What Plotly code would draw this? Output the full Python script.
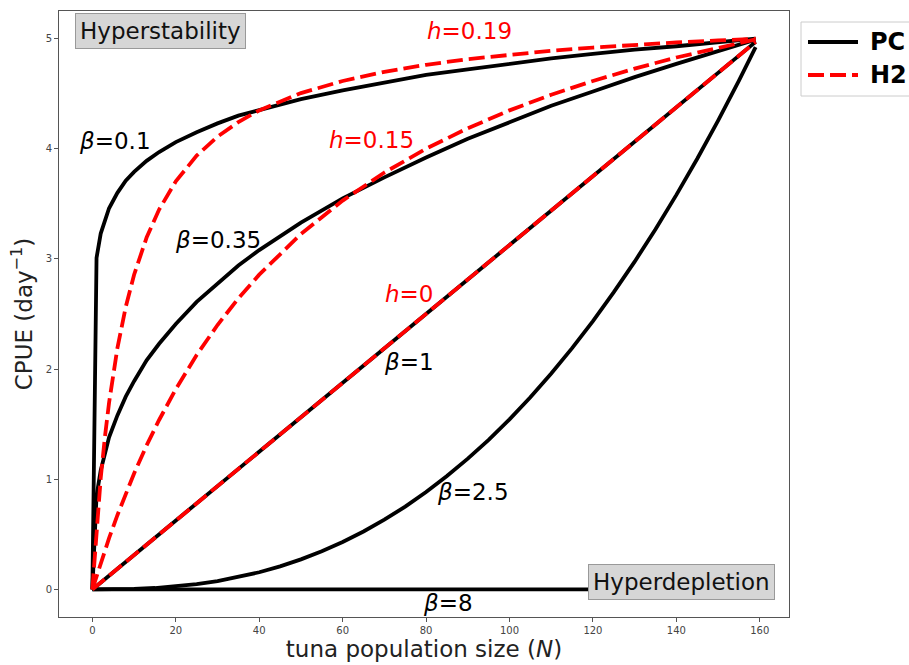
import plotly.graph_objects as go

# ---- data ----
N_grid = [0, 1, 2, 3, 4, 6, 8, 10, 13, 16, 20, 25, 30, 35, 40, 50, 60, 70,
          80, 90, 100, 110, 120, 130, 140, 150, 159]

pc_beta_01 = [0, 3.01, 3.23, 3.36, 3.46, 3.60, 3.71, 3.79, 3.89, 3.97, 4.06, 4.15,
              4.23, 4.30, 4.35, 4.45, 4.53, 4.60, 4.67, 4.72, 4.77, 4.82, 4.86,
              4.90, 4.93, 4.97, 5.00]
pc_beta_035 = [0, 0.85, 1.08, 1.24, 1.38, 1.58, 1.75, 1.89, 2.08, 2.23, 2.41, 2.61,
               2.78, 2.94, 3.08, 3.33, 3.55, 3.74, 3.92, 4.09, 4.24, 4.39, 4.52,
               4.65, 4.77, 4.89, 4.99]
N_lin = [0, 159]
pc_beta_1 = [0, 4.97]
N_25 = [0, 5, 10, 15, 20, 25, 30, 35, 40, 45, 50, 55, 60, 65, 70, 75, 80, 85, 90,
        95, 100, 105, 110, 115, 120, 125, 130, 135, 140, 145, 150, 155, 159]
pc_beta_25 = [0, 0.001, 0.005, 0.013, 0.028, 0.048, 0.076, 0.112, 0.156, 0.210,
              0.273, 0.346, 0.431, 0.526, 0.633, 0.752, 0.884, 1.029, 1.187, 1.358,
              1.544, 1.744, 1.960, 2.190, 2.436, 2.698, 2.975, 3.270, 3.581, 3.909,
              4.255, 4.619, 4.922]
N_8 = [0, 125]
pc_beta_8 = [0, 0]

h2_h019 = [0, 0.559, 1.010, 1.382, 1.695, 2.190, 2.564, 2.857, 3.194, 3.448, 3.704,
           3.937, 4.110, 4.242, 4.348, 4.505, 4.615, 4.698, 4.762, 4.813, 4.854,
           4.889, 4.918, 4.943, 4.965, 4.983, 4.998]
h2_h015 = [0, 0.123, 0.241, 0.355, 0.465, 0.674, 0.870, 1.053, 1.307, 1.538, 1.818,
           2.128, 2.400, 2.642, 2.857, 3.226, 3.529, 3.784, 4.000, 4.186, 4.348,
           4.490, 4.615, 4.727, 4.828, 4.918, 4.992]
h2_h0 = [0, 4.97]

x_ticks = [0, 20, 40, 60, 80, 100, 120, 140, 160]
y_ticks = [0, 1, 2, 3, 4, 5]
legend_names = ["PC", "H2"]

FONT = "DejaVu Sans"
LW = 3.8
DASH = "16px,6px"

fig = go.Figure()

pc_series = [(N_grid, pc_beta_01), (N_grid, pc_beta_035), (N_lin, pc_beta_1),
             (N_25, pc_beta_25), (N_8, pc_beta_8)]
for xs, ys in pc_series:
    fig.add_trace(go.Scatter(x=xs, y=ys, mode="lines",
                             line=dict(color="black", width=LW),
                             name="PC", showlegend=False))

h2_series = [(N_grid, h2_h019), (N_grid, h2_h015), (N_lin, h2_h0)]
for xs, ys in h2_series:
    fig.add_trace(go.Scatter(x=xs, y=ys, mode="lines",
                             line=dict(color="red", width=LW, dash=DASH),
                             name="H2", showlegend=False))

labels = [
    ("<i>β</i>=0.1", 5.4, 4.07, "black"),
    ("<i>β</i>=0.35", 30.0, 3.17, "black"),
    ("<i>β</i>=1", 76.0, 2.06, "black"),
    ("<i>β</i>=2.5", 91.3, 0.88, "black"),
    ("<i>β</i>=8", 85.3, -0.12, "black"),
    ("<i>h</i>=0.19", 90.3, 5.07, "red"),
    ("<i>h</i>=0.15", 66.9, 4.08, "red"),
    ("<i>h</i>=0", 76.0, 2.68, "red"),
]
for txt, x, y, c in labels:
    fig.add_annotation(x=x, y=y, text=txt, showarrow=False,
                       font=dict(family=FONT, size=23, color=c))

for txt, x, y in [("Hyperstability", 16.4, 5.07), ("Hyperdepletion", 141.3, 0.07)]:
    fig.add_annotation(x=x, y=y, text=txt, showarrow=False,
                       font=dict(family=FONT, size=23, color="#111"),
                       bgcolor="#d6d6d6", bordercolor="#999999", borderwidth=1,
                       borderpad=4)

# ---- legend box drawn by hand (paper coordinates) ----
PL, PW, PT, PH = 59, 730, 11, 606
def px_x(p):
    return (p - PL) / PW
def px_y(p):
    return (PT + PH - p) / PH

fig.add_shape(type="rect", xref="paper", yref="paper",
              x0=px_x(801), x1=px_x(915), y0=px_y(96), y1=px_y(22),
              line=dict(color="#cccccc", width=1), fillcolor="white")
legend_styles = [dict(color="black", width=LW), dict(color="red", width=LW, dash=DASH)]
for i, (name, st) in enumerate(zip(legend_names, legend_styles)):
    yy = px_y(42 + 33 * i)
    fig.add_shape(type="line", xref="paper", yref="paper",
                  x0=px_x(808), x1=px_x(858), y0=yy, y1=yy, line=st)
    fig.add_annotation(xref="paper", yref="paper", x=px_x(868), y=yy,
                       xanchor="left", yanchor="middle", showarrow=False,
                       text="<b>%s</b>" % name,
                       font=dict(family=FONT, size=24, color="black"))

axis_common = dict(showgrid=False, zeroline=False, showline=True, mirror=True,
                   linecolor="#555", linewidth=1, ticks="outside", ticklen=4,
                   tickcolor="#555", automargin=False,
                   tickfont=dict(family=FONT, size=10, color="#444"))

fig.update_layout(
    width=909, height=665,
    margin=dict(l=59, r=120, t=11, b=48, autoexpand=False),
    plot_bgcolor="white", paper_bgcolor="white",
    font=dict(family=FONT),
    xaxis=dict(range=[-8, 167], tickvals=x_ticks,
               title=dict(text="tuna population size (<i>N</i>)",
                          font=dict(family=FONT, size=23, color="#222"), standoff=4),
               **axis_common),
    yaxis=dict(range=[-0.25, 5.25], tickvals=y_ticks,
               title=dict(text="CPUE (day<sup>−1</sup>)",
                          font=dict(family=FONT, size=23, color="#222"), standoff=6),
               **axis_common),
    showlegend=False,
)

fig.write_html("out.html", config={"displayModeBar": False},
               post_script="document.body.style.margin='0';document.body.style.overflow='hidden';")
